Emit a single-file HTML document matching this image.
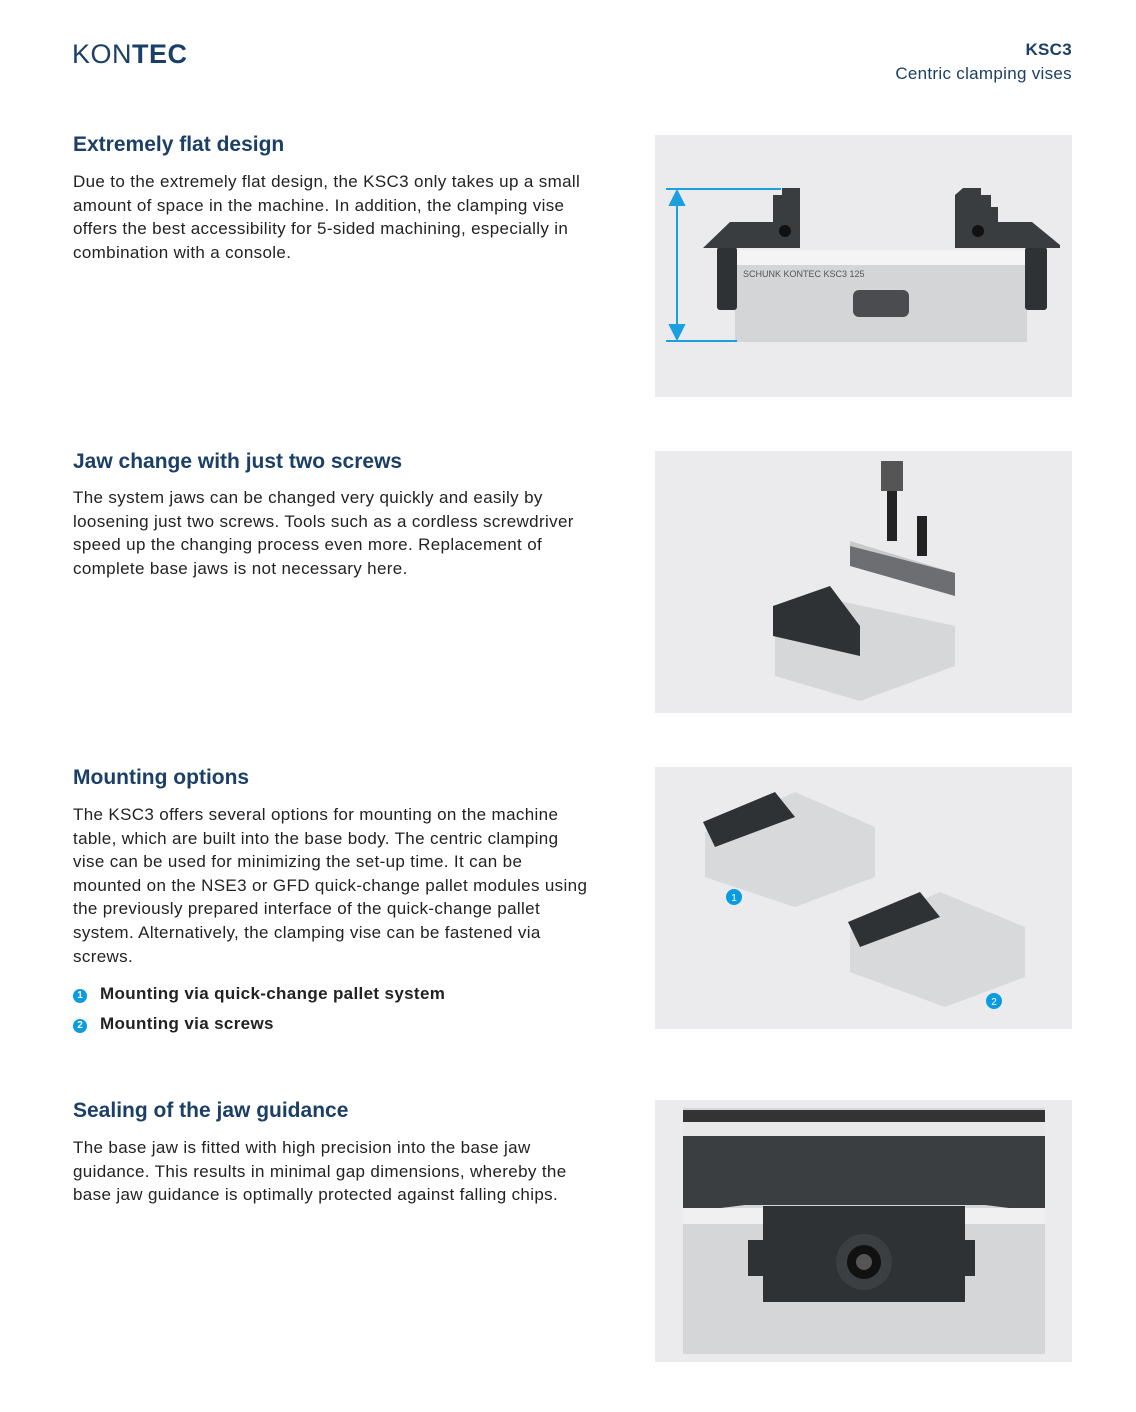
<!DOCTYPE html>
<html><head><meta charset="utf-8"><style>
body{margin:0;width:1136px;height:1412px;background:#fff;position:relative;font-family:"Liberation Sans",sans-serif;overflow:hidden}
.a{position:absolute}
h2{position:absolute;left:73px;margin:0;font-size:21px;font-weight:bold;color:#1b3f66;white-space:nowrap}
.p{position:absolute;left:73px;font-size:17px;letter-spacing:0.35px;line-height:23.6px;color:#222;white-space:nowrap}
.panel{position:absolute;left:655px;width:417px;height:262px;background:#ebebed}
.b{position:absolute;left:73px;font-size:17px;letter-spacing:0.35px;font-weight:bold;color:#222}
.n{display:inline-block;width:14px;height:14px;border-radius:50%;background:#0a9be0;color:#fff;font-size:10px;letter-spacing:0;text-align:center;line-height:14px;margin-right:13px;vertical-align:1px}
</style></head><body>
<div class="a" style="left:72px;top:39px;font-size:27px;color:#1b3f66;letter-spacing:0.5px"><span style="font-weight:300">KON</span><b>TEC</b></div>
<div class="a" style="right:64px;top:38px;text-align:right;color:#1b3f66;font-size:17px;letter-spacing:0.3px;line-height:24px"><b>KSC3</b><br>Centric clamping vises</div>

<h2 style="top:133px">Extremely flat design</h2>
<div class="p" style="top:170px">Due to the extremely flat design, the KSC3 only takes up a small<br>amount of space in the machine. In addition, the clamping vise<br>offers the best accessibility for 5-sided machining, especially in<br>combination with a console.</div>
<div class="panel" style="top:135px"><svg width="417" height="262">
<rect x="80" y="127" width="292" height="80" fill="#d4d5d7"/>
<rect x="80" y="115" width="292" height="15" fill="#f4f4f4"/>
<rect x="62" y="112" width="20" height="63" rx="3" fill="#2f3235"/><rect x="370" y="112" width="22" height="63" rx="3" fill="#2f3235"/>
<path d="M48 113 L75 87 L118 87 L118 60 L127 60 L127 53 L145 53 L145 113 Z" fill="#3a3d40"/>
<path d="M300 113 L300 60 L308 53 L326 53 L326 60 L336 60 L336 72 L343 72 L343 87 L377 87 L405 110 L405 113 Z" fill="#3a3d40"/>
<circle cx="130" cy="96" r="6" fill="#111"/><circle cx="323" cy="96" r="6" fill="#111"/>
<rect x="198" y="155" width="56" height="27" rx="6" fill="#4a4c4f"/>
<text x="88" y="142" font-size="9" fill="#555" font-family="Liberation Sans">SCHUNK  KONTEC KSC3 125</text>
<g stroke="#1aa0de" stroke-width="2" fill="#1aa0de"><line x1="11" y1="54" x2="126" y2="54"/><line x1="11" y1="206" x2="82" y2="206"/><line x1="22" y1="62" x2="22" y2="198"/><path d="M15 70 L22 56 L29 70Z"/><path d="M15 190 L22 204 L29 190Z"/></g>
</svg></div>

<h2 style="top:450px">Jaw change with just two screws</h2>
<div class="p" style="top:486px">The system jaws can be changed very quickly and easily by<br>loosening just two screws. Tools such as a cordless screwdriver<br>speed up the changing process even more. Replacement of<br>complete base jaws is not necessary here.</div>
<div class="panel" style="top:451px"><svg width="417" height="262">
<rect x="226" y="10" width="22" height="30" fill="#555"/><rect x="232" y="40" width="10" height="50" fill="#222"/><rect x="262" y="65" width="10" height="40" fill="#222"/>
<path d="M195 90 L300 122 L300 145 L195 115Z" fill="#c8c9cb"/><path d="M300 122 L300 145 L195 115 L195 95Z" fill="#2f3235" opacity=".6"/>
<path d="M120 185 L185 150 L300 175 L300 215 L205 250 L120 225Z" fill="#d6d7d9"/>
<path d="M118 155 L175 135 L205 175 L205 205 L118 185Z" fill="#2f3235"/>
</svg></div>

<h2 style="top:766px">Mounting options</h2>
<div class="p" style="top:803px">The KSC3 offers several options for mounting on the machine<br>table, which are built into the base body. The centric clamping<br>vise can be used for minimizing the set-up time. It can be<br>mounted on the NSE3 or GFD quick-change pallet modules using<br>the previously prepared interface of the quick-change pallet<br>system. Alternatively, the clamping vise can be fastened via<br>screws.</div>
<div class="b" style="top:984px"><span class="n">1</span>Mounting via quick-change pallet system</div>
<div class="b" style="top:1014px"><span class="n">2</span>Mounting via screws</div>
<div class="panel" style="top:767px"><svg width="417" height="262">
<path d="M50 65 L140 25 L220 60 L220 110 L140 140 L50 110Z" fill="#d8d9db"/><path d="M48 55 L120 25 L140 50 L60 80Z" fill="#2f3235"/>
<path d="M195 165 L285 125 L370 160 L370 210 L290 240 L195 205Z" fill="#d8d9db"/><path d="M193 155 L265 125 L285 150 L205 180Z" fill="#2f3235"/>
<circle cx="79" cy="130" r="8" fill="#0a9be0"/><text x="79" y="134" font-size="10" fill="#fff" text-anchor="middle">1</text>
<circle cx="339" cy="234" r="8" fill="#0a9be0"/><text x="339" y="238" font-size="10" fill="#fff" text-anchor="middle">2</text>
</svg></div>

<h2 style="top:1099px">Sealing of the jaw guidance</h2>
<div class="p" style="top:1136px">The base jaw is fitted with high precision into the base jaw<br>guidance. This results in minimal gap dimensions, whereby the<br>base jaw guidance is optimally protected against falling chips.</div>
<div class="panel" style="top:1100px"><svg width="417" height="262">
<rect x="28" y="8" width="362" height="246" fill="#d5d6d8"/>
<rect x="28" y="10" width="362" height="12" fill="#333"/><rect x="28" y="22" width="362" height="14" fill="#e8e8e8"/>
<path d="M28 36 L390 36 L390 110 L370 110 L330 105 L90 105 L50 110 L28 110Z" fill="#3b3e41"/>
<rect x="28" y="108" width="80" height="16" fill="#f0f0f0"/><rect x="310" y="108" width="80" height="16" fill="#f0f0f0"/>
<path d="M108 106 L310 106 L310 140 L320 140 L320 176 L310 176 L310 202 L108 202 L108 176 L93 176 L93 140 L108 140Z" fill="#2f3235"/>
<circle cx="209" cy="162" r="28" fill="#3c3f42"/><circle cx="209" cy="162" r="17" fill="#111"/><circle cx="209" cy="162" r="8" fill="#555"/>
</svg></div>
</body></html>
